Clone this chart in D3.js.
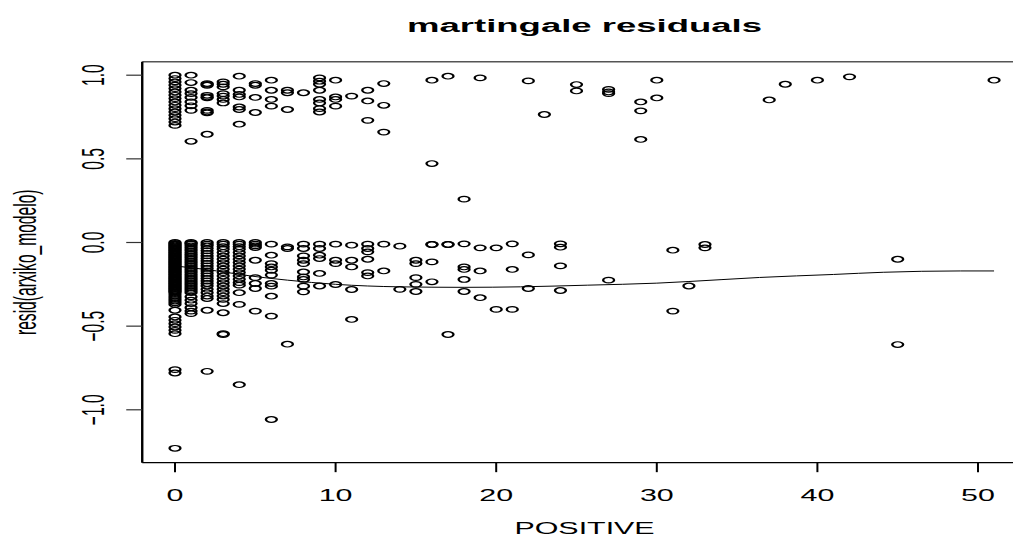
<!DOCTYPE html>
<html>
<head>
<meta charset="utf-8">
<script src="https://cdn.jsdelivr.net/npm/d3@7"></script>
<style>
body { margin: 0; background: #fff; overflow: hidden; }
text { font-family: "Liberation Sans", Arial, sans-serif; fill: #000; }
</style>
</head>
<body>
<script>
// residuals, one list per POSITIVE value
var positiveValues = [0, 1, 2, 3, 4, 5, 6, 7, 8, 9, 10, 11, 12, 13, 14, 15, 16, 17, 18, 19,
  20, 21, 22, 23, 24, 25, 27, 29, 30, 31, 32, 33, 37, 38, 40, 42, 45, 51];

var residByPositive = [
  [1.0, 0.98, 0.96, 0.94, 0.92, 0.90, 0.88, 0.86, 0.84, 0.82, 0.80, 0.78, 0.76, 0.74, 0.72, 0.70,
   0, -0.005, -0.01, -0.015, -0.02, -0.025, -0.03, -0.035, -0.04, -0.045, -0.05, -0.055, -0.06,
   -0.065, -0.07, -0.075, -0.08, -0.085, -0.09, -0.095, -0.10, -0.105, -0.11, -0.115, -0.12,
   -0.125, -0.13, -0.135, -0.14, -0.145, -0.15, -0.155, -0.16, -0.165, -0.17, -0.175, -0.18,
   -0.185, -0.19, -0.195, -0.20, -0.205, -0.21, -0.215, -0.22, -0.225, -0.23, -0.235, -0.24,
   -0.245, -0.25, -0.255, -0.26, -0.265, -0.27, -0.275, -0.28, -0.285, -0.29, -0.295, -0.30,
   -0.31, -0.32, -0.33, -0.34, -0.35, -0.36, -0.37,
   -0.405, -0.445, -0.465, -0.485, -0.505, -0.525, -0.545, -0.76, -0.78, -1.23],
  [1.0, 0.956, 0.91, 0.89, 0.867, 0.84, 0.817, 0.79, 0.605, 0, -0.005, -0.01, -0.02, -0.03, -0.04,
   -0.05, -0.06, -0.07, -0.08, -0.09, -0.10, -0.11, -0.12, -0.13, -0.14, -0.15, -0.16, -0.17,
   -0.18, -0.19, -0.2, -0.21, -0.22, -0.23, -0.24, -0.25, -0.26, -0.27, -0.28, -0.29, -0.30,
   -0.325, -0.345, -0.365, -0.39, -0.41, -0.425],
  [0.95, 0.945, 0.94, 0.88, 0.87, 0.865, 0.79, 0.78, 0.775, 0.647, 0, -0.01, -0.02, -0.035,
   -0.05, -0.065, -0.08, -0.095, -0.11, -0.125, -0.14, -0.155, -0.17, -0.185, -0.2, -0.215,
   -0.23, -0.245, -0.26, -0.28, -0.30, -0.32, -0.335, -0.405, -0.77],
  [0.96, 0.946, 0.93, 0.89, 0.875, 0.855, 0.834, 0, -0.01, -0.025, -0.04, -0.06, -0.08, -0.10,
   -0.12, -0.14, -0.16, -0.18, -0.20, -0.22, -0.24, -0.26, -0.28, -0.30, -0.32, -0.34, -0.365,
   -0.42, -0.545, -0.55],
  [0.994, 0.91, 0.885, 0.87, 0.81, 0.795, 0.707, 0, -0.01, -0.025, -0.04, -0.06, -0.08, -0.10,
   -0.12, -0.14, -0.16, -0.18, -0.20, -0.22, -0.24, -0.255, -0.30, -0.37, -0.85],
  [0.95, 0.94, 0.867, 0.777, 0, -0.01, -0.02, -0.03, -0.106, -0.21, -0.245, -0.275, -0.41],
  [0.97, 0.91, 0.855, 0.815, -0.01, -0.076, -0.126, -0.146, -0.166, -0.195, -0.245, -0.261,
   -0.321, -0.44, -1.058],
  [0.91, 0.895, 0.795, -0.026, -0.036, -0.608],
  [0.895, -0.01, -0.036, -0.08, -0.106, -0.126, -0.176, -0.206, -0.221, -0.261, -0.295],
  [0.984, 0.964, 0.946, 0.91, 0.855, 0.834, 0.80, 0.78, -0.01, -0.036, -0.076, -0.096, -0.185, -0.26],
  [0.97, 0.87, 0.855, 0.815, -0.01, -0.106, -0.126, -0.251],
  [0.875, -0.016, -0.106, -0.146, -0.281, -0.46],
  [0.91, 0.846, 0.73, -0.01, -0.036, -0.056, -0.10, -0.18, -0.20],
  [0.95, 0.82, 0.66, -0.01, -0.17],
  [-0.022, -0.28],
  [-0.106, -0.126, -0.21, -0.25, -0.293],
  [0.97, 0.472, -0.012, -0.012, -0.116, -0.235],
  [0.994, -0.012, -0.012, -0.55],
  [0.259, -0.008, -0.146, -0.161, -0.221, -0.293],
  [0.984, -0.032, -0.17, -0.33],
  [-0.032, -0.40],
  [-0.008, -0.161, -0.40],
  [0.966, -0.074, -0.275],
  [0.765],
  [-0.008, -0.028, -0.14, -0.287],
  [0.944, 0.906],
  [0.915, 0.90, 0.89, -0.225],
  [0.84, 0.787, 0.616],
  [0.97, 0.864],
  [-0.046, -0.41],
  [-0.26],
  [-0.012, -0.032],
  [0.852],
  [0.946],
  [0.97],
  [0.99],
  [-0.10, -0.61],
  [0.97]
];

// smoother line
var lowessX = [0, 2.6, 4.7, 7, 10, 14, 18, 21.5, 25.7, 30, 34, 36.4, 41, 44.1, 48.9, 51];
var lowessY = [-0.14, -0.17, -0.2, -0.225, -0.25, -0.265, -0.268, -0.265, -0.255, -0.243,
  -0.222, -0.209, -0.191, -0.178, -0.17, -0.17];

var xTicks = [0, 10, 20, 30, 40, 50];
var yTicks = [-1.0, -0.5, 0.0, 0.5, 1.0];

var width = 1013, height = 539;
var stretch = 1.95;   // the picture is widened horizontally
var fontSize = 15.6;

var svg = d3.select("body").append("svg")
  .attr("width", width)
  .attr("height", height);

var x = d3.scaleLinear().domain([0, 50]).range([175, 978]);
var y = d3.scaleLinear().domain([0, 1]).range([242.5, 75.2]);

var xLim = [-2.04, 53.04];
var yLim = [-1.316, 1.08];

var points = [];
positiveValues.forEach(function(p, i) {
  residByPositive[i].forEach(function(r) {
    points.push({x: p, y: r});
  });
});

// points
svg.append("g").selectAll("circle").data(points)
  .enter().append("circle")
  .attr("r", 2.8)
  .attr("transform", function(d) {
    return "translate(" + x(d.x) + "," + y(d.y) + ") scale(" + stretch + ",1)";
  })
  .attr("fill", "none")
  .attr("stroke", "#000")
  .attr("stroke-width", 1.2);

// lowess line
var line = d3.line()
  .x(function(d) { return x(d[0]); })
  .y(function(d) { return y(d[1]); })
  .curve(d3.curveMonotoneX);

svg.append("path")
  .datum(lowessX.map(function(v, i) { return [v, lowessY[i]]; }))
  .attr("d", line)
  .attr("fill", "none")
  .attr("stroke", "#000")
  .attr("stroke-width", 1);

// box
var bx0 = x(xLim[0]), bx1 = x(xLim[1]), by0 = y(yLim[1]), by1 = y(yLim[0]);
svg.append("line").attr("x1", bx0).attr("x2", bx1).attr("y1", by0).attr("y2", by0)
  .attr("stroke", "#555").attr("stroke-width", 1.4);
svg.append("line").attr("x1", bx0).attr("x2", bx1).attr("y1", by1).attr("y2", by1)
  .attr("stroke", "#000").attr("stroke-width", 1.4);
svg.append("line").attr("x1", bx0).attr("x2", bx0).attr("y1", by0).attr("y2", by1)
  .attr("stroke", "#000").attr("stroke-width", 2.4);
svg.append("line").attr("x1", bx1).attr("x2", bx1).attr("y1", by0).attr("y2", by1)
  .attr("stroke", "#000").attr("stroke-width", 2.4);

// x axis
svg.append("g").selectAll("line").data(xTicks)
  .enter().append("line")
  .attr("x1", function(d) { return x(d); })
  .attr("x2", function(d) { return x(d); })
  .attr("y1", by1)
  .attr("y2", by1 + 9.5)
  .attr("stroke", "#000")
  .attr("stroke-width", 2);

svg.append("g").selectAll("text").data(xTicks)
  .enter().append("text")
  .attr("transform", function(d) { return "translate(" + x(d) + ",501) scale(" + stretch + ",1)"; })
  .attr("text-anchor", "middle")
  .style("font-size", fontSize + "px")
  .text(function(d) { return d; });

// y axis
svg.append("g").selectAll("line").data(yTicks)
  .enter().append("line")
  .attr("x1", bx0 - 16)
  .attr("x2", bx0)
  .attr("y1", function(d) { return y(d); })
  .attr("y2", function(d) { return y(d); })
  .attr("stroke", "#333")
  .attr("stroke-width", 1.2);

svg.append("g").selectAll("text").data(yTicks)
  .enter().append("text")
  .attr("transform", function(d) {
    return "translate(104," + y(d) + ") scale(" + stretch + ",1) rotate(-90)";
  })
  .attr("text-anchor", "middle")
  .style("font-size", fontSize + "px")
  .text(function(d) { return d3.format(".1f")(d); });

// titles
svg.append("text")
  .attr("transform", "translate(" + ((bx0 + bx1) / 2) + ",32) scale(" + stretch + ",1)")
  .attr("text-anchor", "middle")
  .style("font-size", (fontSize * 1.2) + "px")
  .style("font-weight", "bold")
  .text("martingale residuals");

svg.append("text")
  .attr("transform", "translate(" + ((bx0 + bx1) / 2) + ",534) scale(" + stretch + ",1)")
  .attr("text-anchor", "middle")
  .style("font-size", fontSize + "px")
  .text("POSITIVE");

svg.append("text")
  .attr("transform", "translate(36," + ((by0 + by1) / 2) + ") scale(" + stretch + ",1) rotate(-90)")
  .attr("text-anchor", "middle")
  .style("font-size", fontSize + "px")
  .text("resid(arxiko_modelo)");
</script>
</body>
</html>
